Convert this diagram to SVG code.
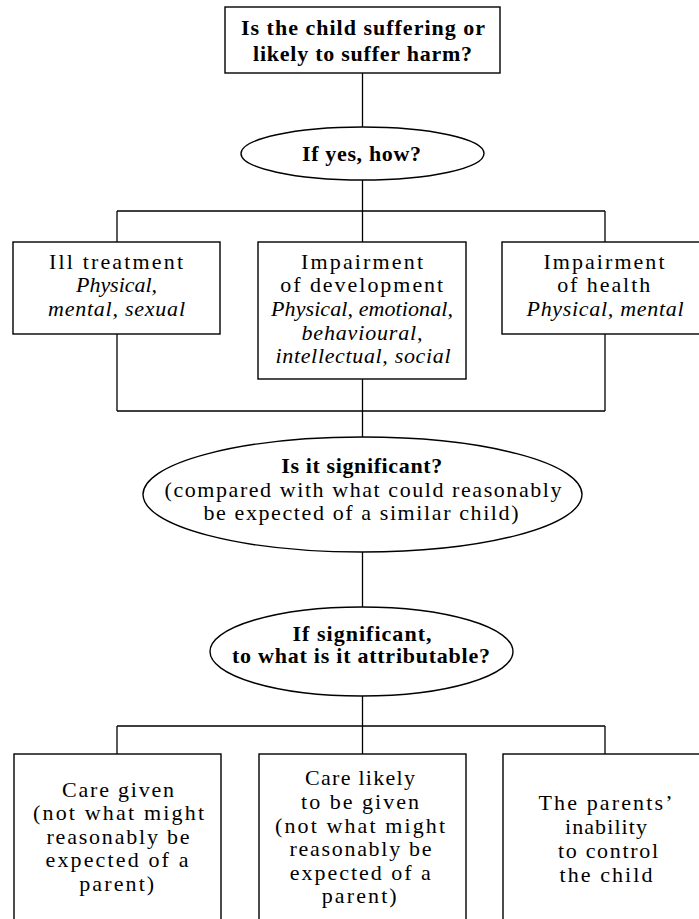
<svg xmlns="http://www.w3.org/2000/svg" width="699" height="919" viewBox="0 0 699 919">
<style>
.box{fill:#fff;stroke:#000;stroke-width:1.4}
.con line{stroke:#000;stroke-width:1.3}
text{font-family:"Liberation Serif","Times New Roman",serif;font-size:22px;fill:#000;text-anchor:middle}
.b{font-weight:bold}
.i{font-style:italic}
</style>
<rect width="699" height="919" fill="#fff"/>
<g id="connectors" class="con">
<line x1="362.5" y1="73" x2="362.5" y2="127"/>
<line x1="362.5" y1="180" x2="362.5" y2="211"/>
<line x1="117" y1="211" x2="605" y2="211"/>
<line x1="117" y1="211" x2="117" y2="242"/>
<line x1="362.5" y1="211" x2="362.5" y2="242"/>
<line x1="605" y1="211" x2="605" y2="242"/>
<line x1="117" y1="334" x2="117" y2="411"/>
<line x1="605" y1="334" x2="605" y2="411"/>
<line x1="117" y1="411" x2="605" y2="411"/>
<line x1="362.5" y1="379" x2="362.5" y2="437"/>
<line x1="362.5" y1="552" x2="362.5" y2="607"/>
<line x1="362.5" y1="696" x2="362.5" y2="726"/>
<line x1="117" y1="726" x2="605" y2="726"/>
<line x1="117" y1="726" x2="117" y2="754"/>
<line x1="362.5" y1="726" x2="362.5" y2="754"/>
<line x1="605" y1="726" x2="605" y2="754"/>
</g>
<g id="n-harm">
<rect class="box" x="225" y="7" width="275" height="66"/>
<text class="b" x="363" y="35" textLength="244" lengthAdjust="spacing">Is the child suffering or</text>
<text class="b" x="362.5" y="61" textLength="219" lengthAdjust="spacing">likely to suffer harm?</text>
</g>
<g id="n-how">
<ellipse class="box" cx="362.5" cy="153.5" rx="121.5" ry="26.5"/>
<text class="b" x="361.5" y="161" textLength="119" lengthAdjust="spacing">If yes, how?</text>
</g>
<g id="n-ill">
<rect class="box" x="13" y="242" width="207" height="92"/>
<text x="116" y="269" textLength="134" lengthAdjust="spacing">Ill treatment</text>
<text class="i" x="116.5" y="292" textLength="81" lengthAdjust="spacing">Physical,</text>
<text class="i" x="116.5" y="316" textLength="137" lengthAdjust="spacing">mental, sexual</text>
</g>
<g id="n-dev">
<rect class="box" x="258" y="242" width="208" height="137"/>
<text x="362" y="268.5" textLength="122" lengthAdjust="spacing">Impairment</text>
<text x="361.7" y="292" textLength="163" lengthAdjust="spacing">of development</text>
<text class="i" x="362" y="316" textLength="182" lengthAdjust="spacing">Physical, emotional,</text>
<text class="i" x="362" y="339.5" textLength="121" lengthAdjust="spacing">behavioural,</text>
<text class="i" x="363" y="363" textLength="175" lengthAdjust="spacing">intellectual, social</text>
</g>
<g id="n-health">
<rect class="box" x="502" y="242" width="208" height="92"/>
<text x="604" y="268.5" textLength="121" lengthAdjust="spacing">Impairment</text>
<text x="603.7" y="292" textLength="93" lengthAdjust="spacing">of health</text>
<text class="i" x="605" y="316" textLength="157" lengthAdjust="spacing">Physical, mental</text>
</g>
<g id="n-significant">
<ellipse class="box" cx="362.5" cy="494.5" rx="219.5" ry="57.5"/>
<text class="b" x="361.7" y="472.7" textLength="161" lengthAdjust="spacing">Is it significant?</text>
<text x="363" y="496.7" textLength="397" lengthAdjust="spacing">(compared with what could reasonably</text>
<text x="361" y="520" textLength="315" lengthAdjust="spacing">be expected of a similar child)</text>
</g>
<g id="n-attributable">
<ellipse class="box" cx="361.5" cy="651.5" rx="151.5" ry="44.5"/>
<text class="b" x="362" y="640.7" textLength="139" lengthAdjust="spacing">If significant,</text>
<text class="b" x="361" y="663.3" textLength="258" lengthAdjust="spacing">to what is it attributable?</text>
</g>
<g id="n-care-given">
<rect class="box" x="14" y="754" width="207" height="200"/>
<text x="118" y="797" textLength="112" lengthAdjust="spacing">Care given</text>
<text x="118.5" y="820" textLength="171" lengthAdjust="spacing">(not what might</text>
<text x="118" y="843.5" textLength="143" lengthAdjust="spacing">reasonably be</text>
<text x="117" y="867" textLength="143" lengthAdjust="spacing">expected of a</text>
<text x="116.7" y="890.5" textLength="75" lengthAdjust="spacing">parent)</text>
</g>
<g id="n-care-likely">
<rect class="box" x="259" y="754" width="207" height="200"/>
<text x="360" y="785" textLength="110" lengthAdjust="spacing">Care likely</text>
<text x="360" y="808.5" textLength="118" lengthAdjust="spacing">to be given</text>
<text x="360" y="832.5" textLength="170" lengthAdjust="spacing">(not what might</text>
<text x="360.5" y="856" textLength="142" lengthAdjust="spacing">reasonably be</text>
<text x="360.3" y="880" textLength="141" lengthAdjust="spacing">expected of a</text>
<text x="359.2" y="903.3" textLength="75" lengthAdjust="spacing">parent)</text>
</g>
<g id="n-control">
<rect class="box" x="503" y="754" width="207" height="200"/>
<text x="605.5" y="810" textLength="134" lengthAdjust="spacing">The parents’</text>
<text x="606" y="834" textLength="82" lengthAdjust="spacing">inability</text>
<text x="608" y="857.7" textLength="100" lengthAdjust="spacing">to control</text>
<text x="606" y="881.7" textLength="93" lengthAdjust="spacing">the child</text>
</g>
</svg>
